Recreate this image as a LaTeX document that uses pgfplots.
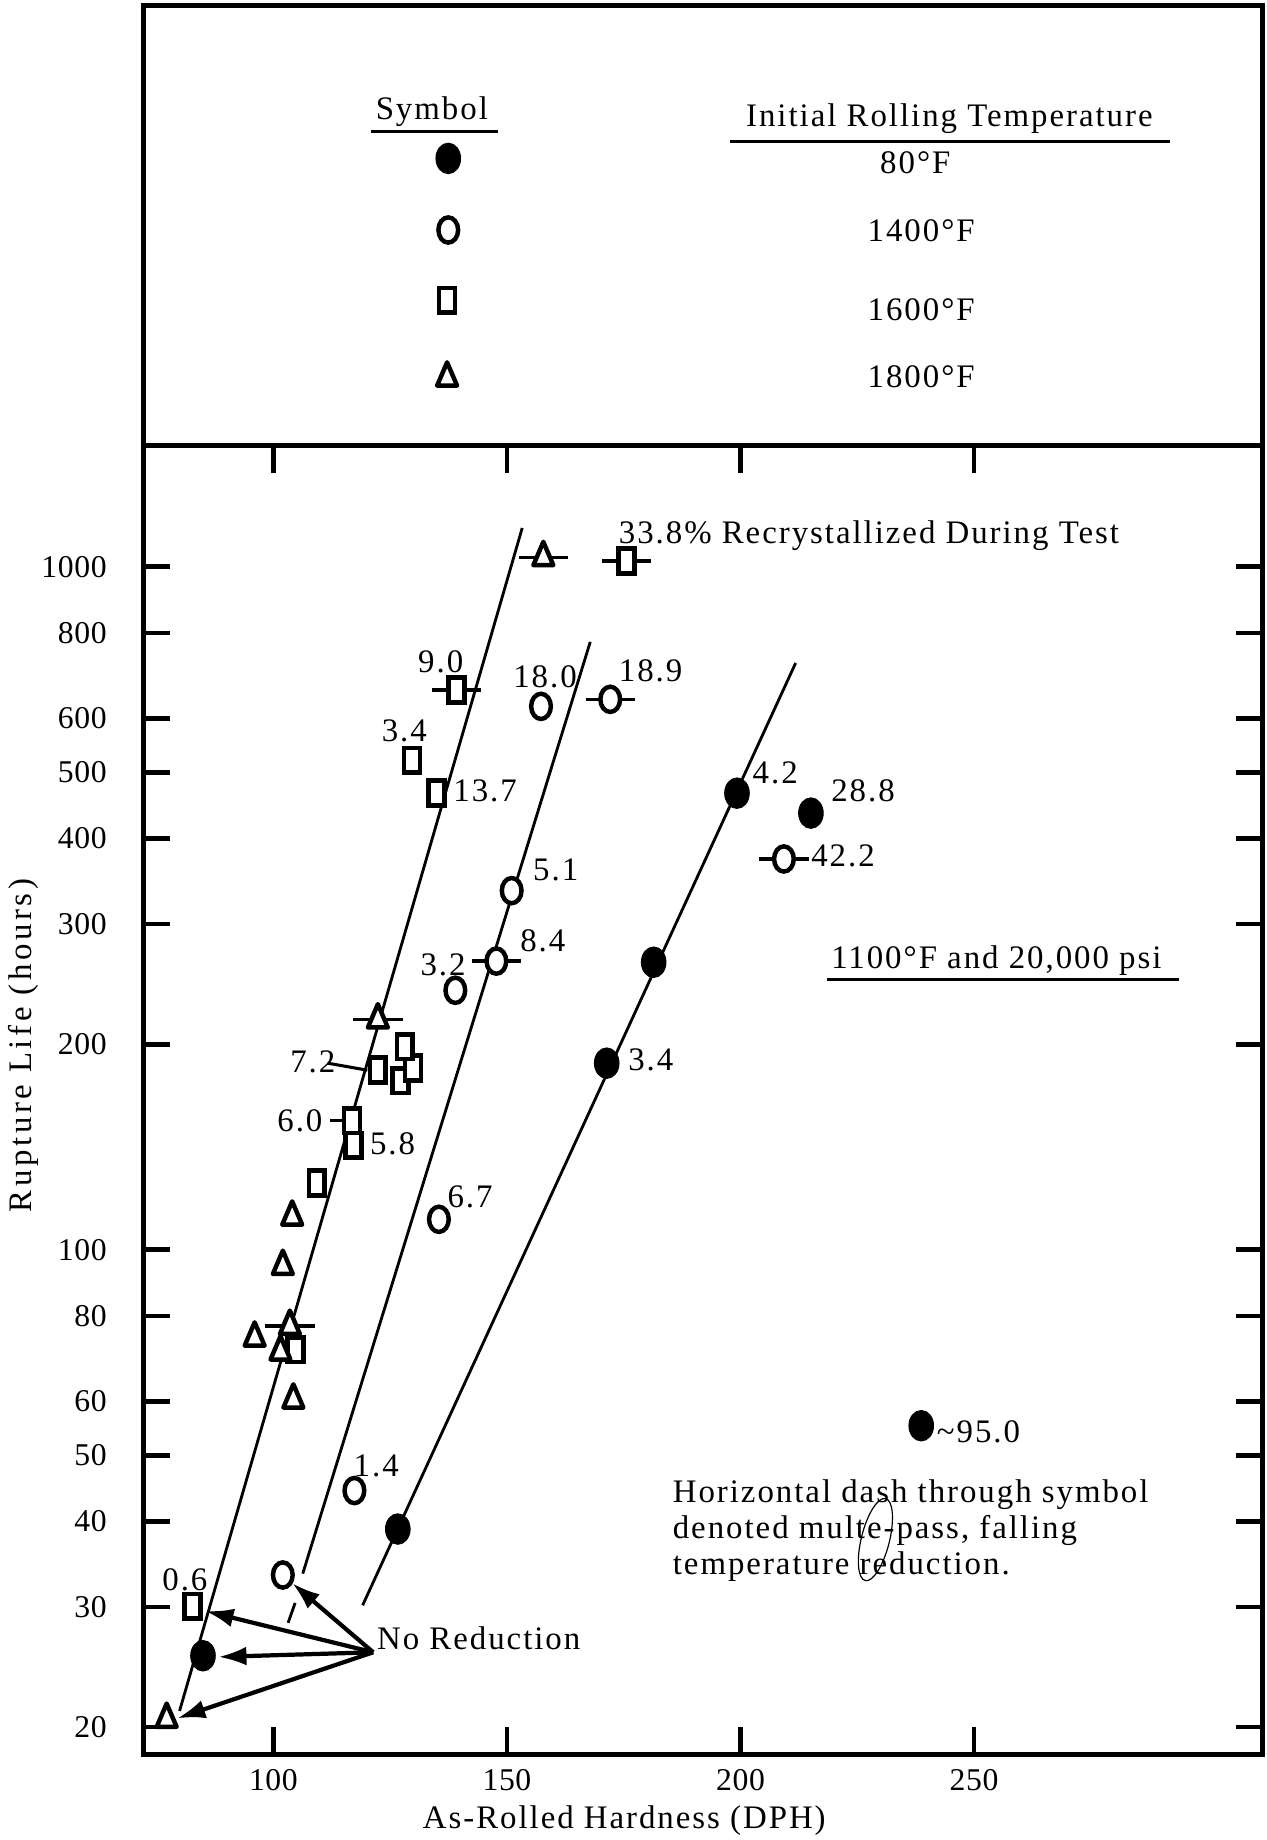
\documentclass[border=0pt]{standalone}
\usepackage{fontspec}
\setmainfont{Liberation Serif}[LetterSpace=6]
\newfontfamily\tickfont{Liberation Serif}[LetterSpace=2]
\newfontfamily\ylabfont{Liberation Serif}[LetterSpace=11]
\usepackage{pgfplots}
\pgfplotsset{compat=1.18}
\usetikzlibrary{arrows.meta}

\pgfplotsset{
  fcirc/.style={only marks, mark=*, mark size=5.25pt, mark options={yscale=1.24, fill=black, draw=black}},
  ocirc/.style={only marks, mark=*, mark size=4.2pt, mark options={yscale=1.28, fill=white, draw=black, line width=1.9pt}},
  sqr/.style={only marks, mark=square*, mark size=3.4pt, mark options={yscale=1.55, fill=white, draw=black, line width=2pt}},
  tri/.style={only marks, mark=triangle*, mark size=4.9pt, mark options={yscale=1.35, fill=white, draw=black, line width=1.9pt, line join=round}},
}
\tikzset{arr/.style={line width=1.8pt, -{Latex[length=12pt,width=8pt]}}}

\begin{document}
\begin{tikzpicture}[font=\fontsize{14}{17}\selectfont]
% ---------- legend box ----------
\begin{axis}[
  at={(61pt,594pt)}, anchor=south west,
  scale only axis, width=477pt, height=187.5pt,
  xmin=122, xmax=1076, ymin=5, ymax=380, y dir=reverse,
  axis line style={line width=2.2pt},
  xtick=\empty, ytick=\empty, clip=false]
  \addplot[fcirc] coordinates {(382,135)};
  \addplot[ocirc] coordinates {(382,196)};
  \addplot[sqr] coordinates {(381,256)};
  \addplot[tri] coordinates {(381,322)};
\end{axis}
% ---------- main plot ----------
\begin{axis}[
  at={(61pt,36.5pt)}, anchor=south west,
  scale only axis, width=477pt, height=557.5pt,
  xmin=72.11, xmax=311.8,
  ymode=log, ymin=18.25, ymax=1503,
  clip=false,
  axis line style={line width=2.2pt},
  tick style={line width=2pt, black},
  major tick length=11.5pt,
  tick align=inside,
  xminorticks=false, yminorticks=false,
  xtick={100,150,200,250},
  xticklabels={100,150,200,250},
  ytick={20,30,40,50,60,80,100,200,300,400,500,600,800,1000},
  yticklabels={20,30,40,50,60,80,100,200,300,400,500,600,800,1000},
  tick label style={font=\tickfont\fontsize{13.5}{15}\selectfont},
  yticklabel style={xshift=-12pt},
  xticklabel style={yshift=-2.7pt},
  xlabel={As-Rolled Hardness (DPH)},
  xlabel style={at={(axis description cs:0.4298,-0.0565)}, anchor=base, font=\fontsize{14}{17}\selectfont},
  ylabel={Rupture Life (hours)},
  ylabel style={at={(axis description cs:-0.0996,0.5417)}, anchor=base, font=\ylabfont\fontsize{14}{17}\selectfont},
]
% fitted lines
\addplot[line width=1.2pt, no marks] coordinates {(79.90,21.12) (153.27,1139.7)};
\addplot[line width=1.2pt, no marks] coordinates {(103.14,28.43) (104.65,30.4)};
\addplot[line width=1.2pt, no marks] coordinates {(106.28,33.56) (167.84,776.3)};
\addplot[line width=1.2pt, no marks] coordinates {(119.10,30.16) (211.81,722.9)};
% arrows from "No Reduction"
\draw[arr] (axis cs:121.36,25.74) -- (axis cs:85.43,29.58);
\draw[arr] (axis cs:121.36,25.74) -- (axis cs:88.19,25.34);
\draw[arr] (axis cs:121.36,25.74) -- (axis cs:79.40,20.6);
\draw[arr] (axis cs:121.36,25.74) -- (axis cs:104.02,32.5);
% multi-pass dashes
\addplot[only marks, mark=-, mark size=10.5pt, mark options={line width=1.5pt}] coordinates {
 (157.79,1032) (175.63,1020) (139.20,660.1) (172.11,639.6) (209.30,373.4)
 (147.74,264.6) (122.36,217.2) (103.52,77.3)};
\draw[line width=1.5pt] (axis cs:112.1,154.5) -- (axis cs:114.9,154.5);
\draw[line width=1.3pt] (axis cs:111.6,187.6) -- (axis cs:120.1,183.2);
% 80 F
\addplot[fcirc] coordinates {(84.92,25.44) (126.63,39.0) (171.36,187.6) (181.41,263.6)
 (199.25,466.1) (215.08,435.8) (238.70,55.25)};
% 1400 F
\addplot[ocirc] coordinates {(102.01,33.4) (117.34,44.4) (135.43,110.8) (138.95,239.8)
 (147.74,264.6) (151.01,335.6) (157.29,624.6) (172.11,639.6) (209.30,373.4)};
% 1600 F
\addplot[sqr] coordinates {(82.66,30.04) (104.77,71.4) (109.30,125.3) (117.09,142.2)
 (116.83,154.5) (122.36,183.2) (127.14,176.8) (129.90,184.6) (128.14,198.3)
 (134.93,466.1) (129.65,520.6) (139.20,660.1) (175.63,1020)};
% 1800 F
\addplot[tri] coordinates {(77.14,20.55) (95.98,74.3) (103.52,77.3) (101.51,70.9)
 (104.27,60.3) (102.01,94.6) (104.02,111.7) (122.36,217.2) (157.79,1032)};
\end{axis}
% ---------- annotations (reference pixel frame) ----------
\begin{scope}[x=0.5pt,y=-0.5pt,shift={(0,784pt)}]
\tikzset{lab/.style={anchor=base west, inner sep=0pt}}
% legend box text
\node[anchor=base, inner sep=0pt] at (368,102) {Symbol};
\draw[line width=1.3pt] (316,112) -- (424,112);
\node[anchor=base, inner sep=0pt] at (809,108) {Initial Rolling Temperature};
\draw[line width=1.3pt] (622,121) -- (997,121);
\node[anchor=base, inner sep=0pt] at (780,148) {80°F};
\node[anchor=base, inner sep=0pt] at (785,206) {1400°F};
\node[anchor=base, inner sep=0pt] at (785,273) {1600°F};
\node[anchor=base, inner sep=0pt] at (785,330) {1800°F};
% point labels
\node[lab] at (527,463) {33.8\% Recrystallized During Test};
\node[lab] at (356,573) {9.0};
\node[lab] at (437,586) {18.0};
\node[lab] at (527,581) {18.9};
\node[lab] at (325,632) {3.4};
\node[lab] at (386,683) {13.7};
\node[lab] at (641,668) {4.2};
\node[lab] at (708,683) {28.8};
\node[lab] at (691,738) {42.2};
\node[lab] at (454,750) {5.1};
\node[lab] at (443,811) {8.4};
\node[lab] at (358,831) {3.2};
\node[lab] at (247,914) {7.2};
\node[lab] at (236,964) {6.0};
\node[lab] at (315,984) {5.8};
\node[lab] at (381,1029) {6.7};
\node[lab] at (535,912) {3.4};
\node[lab] at (301,1258) {1.4};
\node[lab] at (138,1355) {0.6};
\node[lab] at (798,1229) {\textasciitilde 95.0};
\node[lab] at (321,1406) {No Reduction};
\node[lab] at (708,825) {1100°F and 20,000 psi};
\draw[line width=1.3pt] (705,835) -- (1005,835);
\node[lab] at (573,1280) {Horizontal dash through symbol};
\node[lab] at (573,1311) {denoted multe-pass, falling};
\node[lab] at (573,1342) {temperature reduction.};
\draw[line width=0.5pt, rotate around={-14:(746,1312)}] (746,1312) ellipse [x radius=12, y radius=36];
\end{scope}
\pgfresetboundingbox
\path[use as bounding box] (0,0) rectangle (539.5pt,784pt);
\end{tikzpicture}
\end{document}
